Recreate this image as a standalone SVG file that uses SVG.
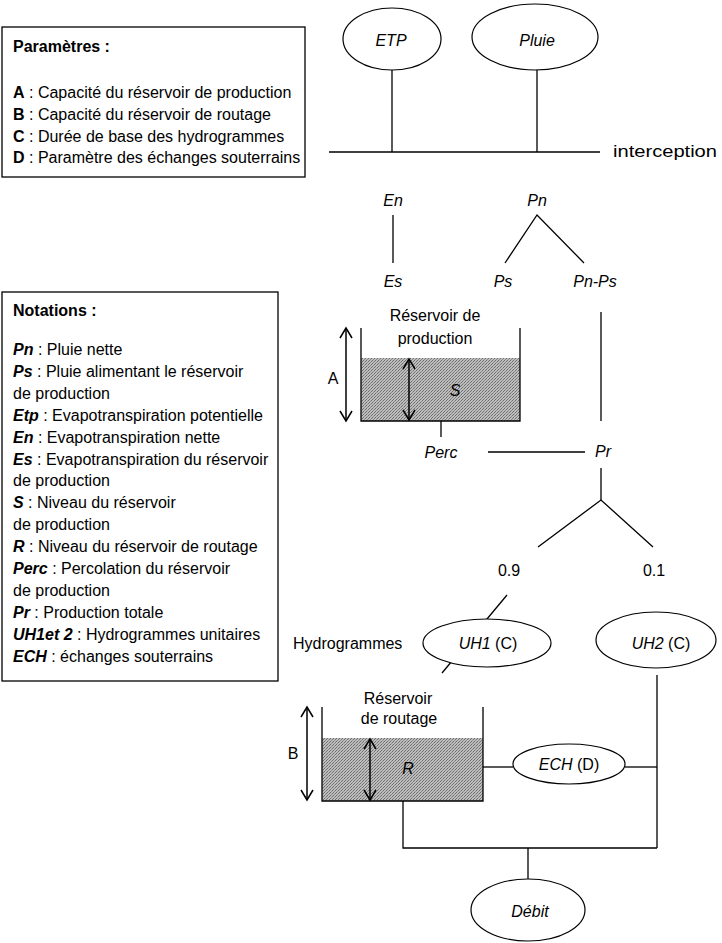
<svg xmlns="http://www.w3.org/2000/svg" width="722" height="943" viewBox="0 0 722 943">
<style>
text{font-family:"Liberation Sans",Arial,sans-serif;font-size:16px;fill:#000}
.i{font-style:italic}
.b{font-weight:bold}
.c{text-anchor:middle}
.ln{stroke:#000;stroke-width:1.3;fill:none}
.el{stroke:#000;stroke-width:1.2;fill:#fff}
.box{stroke:#000;stroke-width:1.3;fill:#fff}
.arr{stroke:#000;stroke-width:1.5;fill:none;marker-start:url(#ah);marker-end:url(#ah)}
</style>
<defs>
<marker id="ah" viewBox="-12 -8 14 16" refX="0" refY="0" markerWidth="14" markerHeight="16" markerUnits="userSpaceOnUse" orient="auto-start-reverse">
<path d="M-10,-6 L0,0 L-10,6" fill="none" stroke="#000" stroke-width="1.5"/>
</marker>
<pattern id="dots" width="3" height="3" patternUnits="userSpaceOnUse">
<rect width="3" height="3" fill="#bdbdbd"/>
<rect x="0" y="0" width="1" height="1" fill="#6e6e6e"/>
<rect x="2" y="1" width="1" height="1" fill="#6e6e6e"/>
<rect x="1" y="2" width="1" height="1" fill="#8a8a8a"/>
</pattern>
</defs>

<g id="parametres">
<rect class="box" x="2" y="27" width="303" height="150"/>
<text class="b" x="13" y="52">Paramètres :</text>
<text x="13" y="98"><tspan class="b">A</tspan> : Capacité du réservoir de production</text>
<text x="13" y="120"><tspan class="b">B</tspan> : Capacité du réservoir de routage</text>
<text x="13" y="141.5"><tspan class="b">C</tspan> : Durée de base des hydrogrammes</text>
<text x="13" y="163"><tspan class="b">D</tspan> : Paramètre des échanges souterrains</text>
</g>

<g id="notations">
<rect class="box" x="2" y="292" width="276" height="389"/>
<text class="b" x="13" y="316">Notations :</text>
<text x="13" y="355"><tspan class="b i">Pn</tspan> : Pluie nette</text>
<text x="13" y="376.9"><tspan class="b i">Ps</tspan> : Pluie alimentant le réservoir</text>
<text x="13" y="398.8">de production</text>
<text x="13" y="420.7"><tspan class="b i">Etp</tspan> : Evapotranspiration potentielle</text>
<text x="13" y="442.6"><tspan class="b i">En</tspan> : Evapotranspiration nette</text>
<text x="13" y="464.5"><tspan class="b i">Es</tspan> : Evapotranspiration du réservoir</text>
<text x="13" y="486.4">de production</text>
<text x="13" y="508.3"><tspan class="b i">S</tspan> : Niveau du réservoir</text>
<text x="13" y="530.2">de production</text>
<text x="13" y="552.1"><tspan class="b i">R</tspan> : Niveau du réservoir de routage</text>
<text x="13" y="574"><tspan class="b i">Perc</tspan> : Percolation du réservoir</text>
<text x="13" y="595.9">de production</text>
<text x="13" y="617.8"><tspan class="b i">Pr</tspan> : Production totale</text>
<text x="13" y="639.7"><tspan class="b i">UH1et 2</tspan> : Hydrogrammes unitaires</text>
<text x="13" y="661.6"><tspan class="b i">ECH</tspan> : échanges souterrains</text>
</g>

<g id="connectors">
<line class="ln" x1="392" y1="70" x2="392" y2="152"/>
<line class="ln" x1="537" y1="70" x2="537" y2="152"/>
<line class="ln" x1="329" y1="152" x2="600" y2="152"/>
<line class="ln" x1="393" y1="215" x2="393" y2="263"/>
<polyline class="ln" points="505,263 537,215 584,263"/>
<line class="ln" x1="601" y1="312" x2="601" y2="421"/>
<line class="ln" x1="441" y1="421" x2="441" y2="437"/>
<line class="ln" x1="488" y1="452" x2="585" y2="452"/>
<line class="ln" x1="601" y1="468" x2="601" y2="500"/>
<polyline class="ln" points="538,547 601,500 653,547"/>
<line class="ln" x1="507" y1="595" x2="442" y2="673"/>
<line class="ln" x1="657" y1="675" x2="657" y2="848"/>
<line class="ln" x1="483" y1="767" x2="513" y2="767"/>
<line class="ln" x1="625" y1="767" x2="657" y2="767"/>
<polyline class="ln" points="403,801 403,848 657,848"/>
<line class="ln" x1="528" y1="848" x2="528" y2="879"/>
</g>

<g id="etp">
<ellipse class="el" cx="392" cy="39" rx="49" ry="31"/>
<text class="i c" x="391" y="46">ETP</text>
</g>
<g id="pluie">
<ellipse class="el" cx="535" cy="37" rx="63" ry="33"/>
<text class="i c" x="537" y="46">Pluie</text>
</g>
<g id="interception">
<text x="613" y="157" font-size="17" textLength="104" lengthAdjust="spacingAndGlyphs">interception</text>
</g>
<g id="en"><text class="i c" x="393" y="206">En</text></g>
<g id="pn"><text class="i c" x="537" y="206">Pn</text></g>
<g id="es"><text class="i c" x="393" y="287">Es</text></g>
<g id="ps"><text class="i c" x="503" y="287">Ps</text></g>
<g id="pnps"><text class="i c" x="595" y="287">Pn-Ps</text></g>

<g id="reservoir-production">
<rect x="361" y="358" width="159" height="63" fill="url(#dots)"/>
<polyline class="ln" points="361,328 361,421 520,421 520,328"/>
<text class="c" x="435" y="321">Réservoir de</text>
<text class="c" x="435" y="344">production</text>
<line class="arr" x1="346" y1="328" x2="346" y2="421"/>
<text class="c" x="333" y="384">A</text>
<line class="arr" x1="409" y1="359" x2="409" y2="420"/>
<text class="i c" x="455" y="396">S</text>
</g>
<g id="perc"><text class="i c" x="441" y="458">Perc</text></g>
<g id="pr"><text class="i c" x="603" y="457">Pr</text></g>
<g id="split09"><text class="c" x="509" y="576">0.9</text></g>
<g id="split01"><text class="c" x="654" y="576">0.1</text></g>

<g id="hydrogrammes"><text x="293" y="649">Hydrogrammes</text></g>
<g id="uh1">
<ellipse class="el" cx="487" cy="643" rx="64" ry="24"/>
<text class="c" x="488" y="649"><tspan class="i">UH1</tspan> (C)</text>
</g>
<g id="uh2">
<ellipse class="el" cx="656" cy="640" rx="60" ry="28"/>
<text class="c" x="661" y="649"><tspan class="i">UH2</tspan> (C)</text>
</g>

<g id="reservoir-routage">
<rect x="322" y="738" width="161" height="63" fill="url(#dots)"/>
<polyline class="ln" points="322,707 322,801 483,801 483,707"/>
<text class="c" x="398" y="704">Réservoir</text>
<text class="c" x="399" y="724">de routage</text>
<line class="arr" x1="307" y1="707" x2="307" y2="800"/>
<text class="c" x="293" y="759">B</text>
<line class="arr" x1="370" y1="739" x2="370" y2="800"/>
<text class="i c" x="408" y="774">R</text>
</g>
<g id="ech">
<ellipse class="el" cx="569" cy="764" rx="56" ry="20"/>
<text class="c" x="569" y="770"><tspan class="i">ECH</tspan> (D)</text>
</g>
<g id="debit">
<ellipse class="el" cx="528" cy="910" rx="57" ry="31"/>
<text class="i c" x="530" y="917">Débit</text>
</g>
</svg>
